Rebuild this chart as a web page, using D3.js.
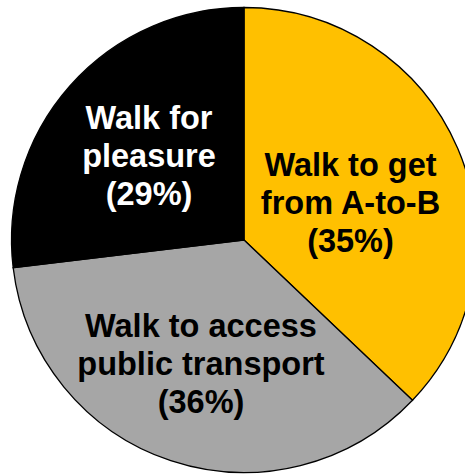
<!DOCTYPE html>
<html>
<head>
<meta charset="utf-8">
<script src="https://cdn.jsdelivr.net/npm/d3@7"></script>
<style>
  html, body { margin: 0; padding: 0; background: #fff; }
  svg { display: block; }
</style>
</head>
<body>
<div id="chart"></div>
<script>
// Slices, clockwise from 12 o'clock (sizes as drawn in the picture)
const categories = ["Walk to get from A-to-B", "Walk to access public transport", "Walk for pleasure"];
const sliceValues = [37.1, 36.0, 26.9];
// Label text as printed on the slices
const labelLines = [
  ["Walk to get", "from A-to-B", "(35%)"],
  ["Walk to access", "public transport", "(36%)"],
  ["Walk for", "pleasure", "(29%)"]
];
const colors = ["#FFC000", "#A6A6A6", "#000000"];
const textColors = ["#000000", "#000000", "#FFFFFF"];
// label anchor (middle line baseline) relative to pie centre
const labelOffsets = [[106.5, -26], [-43, 135], [-95, -73]];

const width = 465;
const height = 474;
const cx = 244;
const cy = 240;
const radius = 232.5;
const fontSize = 32.5;
const lineHeight = 37.8;

const svg = d3.select("#chart").append("svg").attr("width", width).attr("height", height);
const g = svg.append("g").attr("transform", `translate(${cx},${cy})`);

const pie = d3.pie().sort(null).startAngle(0).endAngle(2 * Math.PI).value((d) => d);
const arc = d3.arc().innerRadius(0).outerRadius(radius);
const arcs = pie(sliceValues);

g.selectAll("path")
  .data(arcs)
  .join("path")
  .attr("d", arc)
  .attr("fill", (d, i) => colors[i])
  .attr("stroke", "#000")
  .attr("stroke-width", 1.3)
  .attr("stroke-linejoin", "miter");

const labels = g
  .selectAll("text")
  .data(categories)
  .join("text")
  .attr("x", (d, i) => labelOffsets[i][0])
  .attr("y", (d, i) => labelOffsets[i][1])
  .attr("text-anchor", "middle")
  .attr("font-family", "'Liberation Sans', Arial, sans-serif")
  .attr("font-weight", "bold")
  .attr("font-size", fontSize)
  .attr("fill", (d, i) => textColors[i]);

labels
  .selectAll("tspan")
  .data((d, i) => labelLines[i].map((t, j) => ({ t, j, i })))
  .join("tspan")
  .attr("x", (d) => labelOffsets[d.i][0])
  .attr("y", (d) => labelOffsets[d.i][1] + (d.j - 1) * lineHeight)
  .text((d) => d.t);
</script>
</body>
</html>
